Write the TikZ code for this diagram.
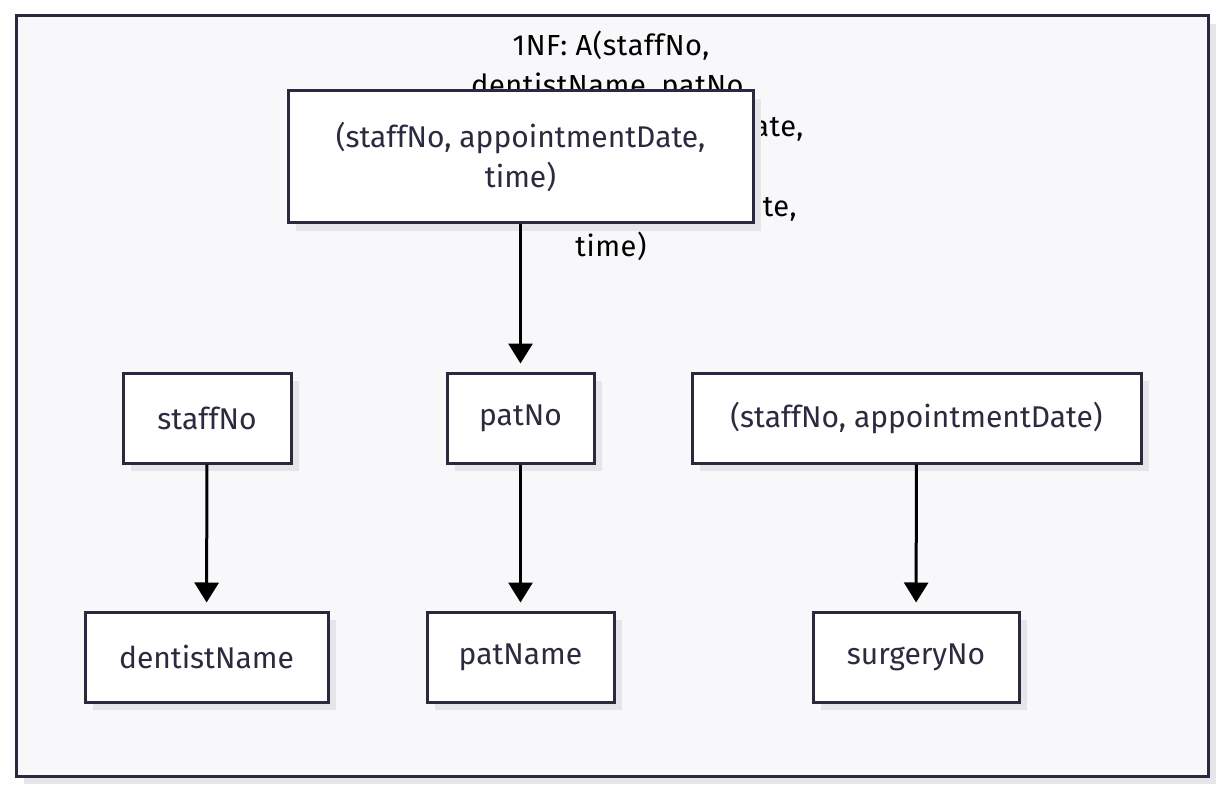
\documentclass[tikz,border=0pt]{standalone}
\usepackage{fontspec}
\setmainfont{Fira Sans}
\newfontfamily\titlefont[LetterSpace=2]{Fira Sans}
\usetikzlibrary{arrows.meta,shadows}
\definecolor{bgfill}{HTML}{F8F8FA}
\definecolor{edgecol}{HTML}{2A2A3E}
\definecolor{shadowcol}{HTML}{E5E5EA}
\definecolor{txtcol}{HTML}{2B2B40}
\tikzset{
  attr/.style={draw=edgecol, line width=3pt, fill=white, text=txtcol, inner sep=0pt,
    font=\fontsize{30}{40}\selectfont, align=center,
    drop shadow={shadow xshift=8pt, shadow yshift=-8pt, fill=shadowcol, opacity=1}},
  fd/.style={line width=3pt, black, -{Triangle[length=20pt,width=24pt]}, shorten >=8pt},
}
\begin{document}
\begin{tikzpicture}[x=1pt,y=-1pt]
\useasboundingbox (0,0) rectangle (1226,794);
\fill[white] (0,0) rectangle (1226,794);
\node[draw=edgecol, line width=3pt, fill=bgfill, minimum width=1192pt, minimum height=760pt, inner sep=0pt,
  drop shadow={shadow xshift=8pt, shadow yshift=-8pt, fill=shadowcol, opacity=1}] (frame) at (612,396) {};
\node[font=\titlefont\fontsize{29}{40.2}\selectfont, align=center, text=black] (title) at (611,146)
  {1NF: A(staffNo,\\ dentistName, patNo,\\ patName, appointmentDate,\\ time, surgeryNo), PK =\\ (staffNo, appointmentDate,\\ time)};
\node[attr, minimum width=465pt, minimum height=132pt] (pk) at (520.5,157) {(staffNo, appointmentDate,\\ time)};
\node[attr, minimum width=168pt, minimum height=90pt] (staff) at (207,418) {staffNo};
\node[attr, minimum width=147pt, minimum height=90pt] (pat) at (520.5,418) {patNo};
\node[attr, minimum width=449pt, minimum height=90pt] (sad) at (916.5,418) {(staffNo, appointmentDate)};
\node[attr, minimum width=243pt, minimum height=90pt] (dname) at (206.5,657) {dentistName};
\node[attr, minimum width=187pt, minimum height=90pt] (pname) at (520.5,657) {patName};
\node[attr, minimum width=206pt, minimum height=90pt] (surg) at (916,657) {surgeryNo};
\draw[fd] (pk) -- (pat);
\draw[fd] (staff) -- (dname);
\draw[fd] (pat) -- (pname);
\draw[fd] (sad) -- (surg);
\end{tikzpicture}
\end{document}
